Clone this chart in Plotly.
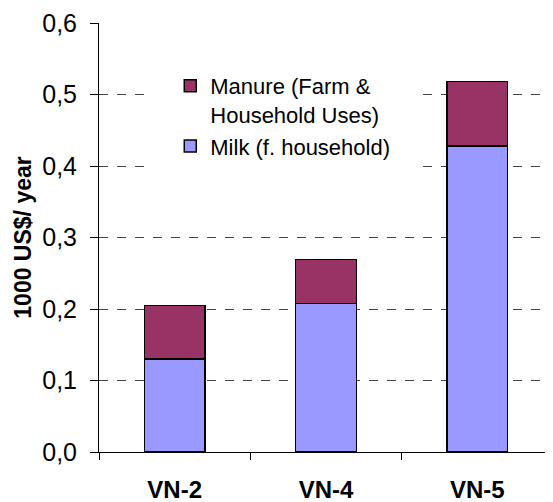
import plotly.graph_objects as go

# data
categories = ['VN-2', 'VN-4', 'VN-5']
milk = [0.130, 0.208, 0.428]
manure = [0.075, 0.061, 0.090]

font_family = 'Arial, Liberation Sans, sans-serif'
colors = {'milk': '#9999FF', 'manure': '#993366'}

fig = go.Figure()
fig.add_trace(go.Bar(
    x=categories, y=milk,
    name='Milk (f. household)',
    marker=dict(color=colors['milk'], line=dict(color='black', width=1.5)),
    width=0.4,
))
fig.add_trace(go.Bar(
    x=categories, y=manure,
    name='Manure (Farm &<br>Household Uses)',
    marker=dict(color=colors['manure'], line=dict(color='black', width=1.5)),
    width=0.4,
))

# white box behind the legend hides the gridlines, as in the original
# (it sits in an empty area, so drawing it above the bars covers nothing)
fig.add_shape(
    type='rect', xref='x domain', yref='y domain',
    x0=0.112, x1=0.71, y0=0.59, y1=0.91,
    fillcolor='white', line=dict(width=0), layer='above',
)

# page has an 8px body margin, so margins are shifted to compensate
fig.update_layout(
    width=553, height=502,
    barmode='stack',
    separators=', ',
    paper_bgcolor='white',
    plot_bgcolor='white',
    margin=dict(l=91, r=8, t=15, b=58, autoexpand=False),
    font=dict(family=font_family, size=22, color='black'),
    legend=dict(
        x=0.157, y=0.902, xanchor='left', yanchor='top',
        traceorder='reversed',
        valign='top',
        bgcolor='rgba(0,0,0,0)',
        font=dict(size=22),
        tracegroupgap=0,
    ),
    showlegend=True,
)

fig.update_xaxes(
    automargin=False,
    showline=True, linecolor='black', linewidth=1,
    ticks='outside', tickson='boundaries', ticklen=7, tickcolor='black',
    tickfont=dict(family=font_family, size=24, color='black', weight='bold'),
    ticklabelstandoff=16,
    showgrid=False,
)
fig.update_yaxes(
    automargin=False,
    range=[0, 0.6], dtick=0.1, tickformat='.1f',
    showline=True, linecolor='black', linewidth=1,
    ticks='outside', ticklen=8, tickcolor='black',
    ticklabelstandoff=8,
    tickfont=dict(family=font_family, size=25, color='black'),
    showgrid=True, gridcolor='#444444', gridwidth=1, griddash='dash',
    zeroline=False,
    title=dict(text='1000 US$/ year', standoff=4,
               font=dict(family=font_family, size=23, color='black', weight='bold')),
)

fig.write_html('out.html')
